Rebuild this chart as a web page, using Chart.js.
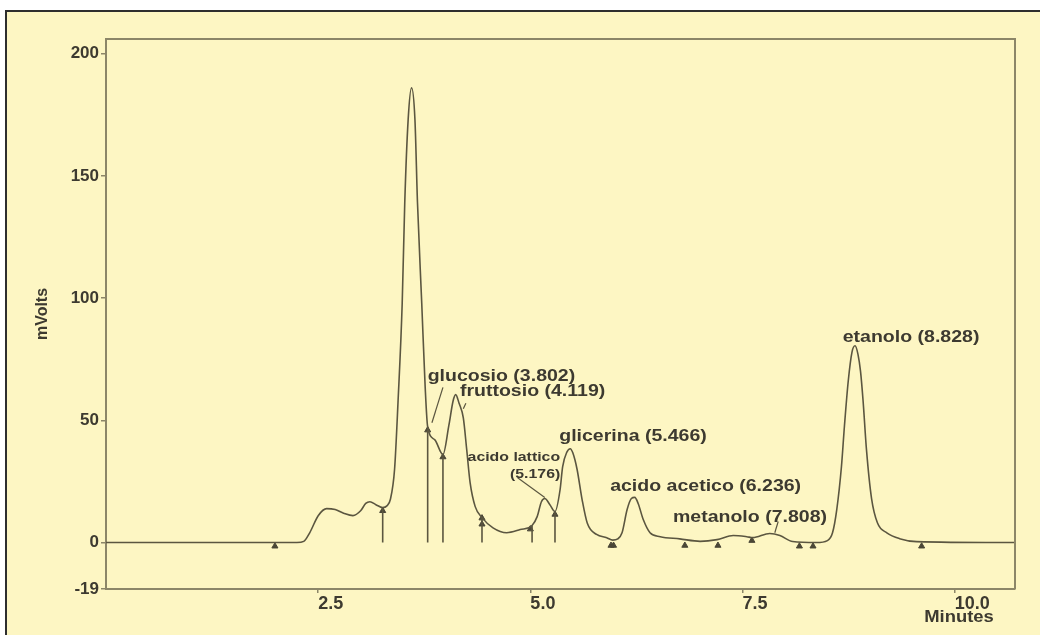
<!DOCTYPE html>
<html>
<head>
<meta charset="utf-8">
<script src="https://cdn.jsdelivr.net/npm/chart.js@4/dist/chart.umd.min.js"></script>
<style>
  html, body { margin: 0; padding: 0; background: #ffffff; }
  #frame {
    position: absolute; left: 5px; top: 10px; width: 1040px; height: 630px;
    background: #fdf6c3; border-left: 2px solid #2e2e2e; border-top: 2px solid #2e2e2e;
  }
  #chart { position: absolute; left: 0; top: 0; }
</style>
</head>
<body>
<div id="frame"></div>
<canvas id="chart" width="1040" height="635"></canvas>
<script>
// chromatogram trace (minutes / mVolts)
const times = [0, 2.25, 2.33, 2.40, 2.50, 2.60, 2.70, 2.80, 2.91, 3.00,
  3.06, 3.11, 3.18, 3.26, 3.31, 3.35, 3.40, 3.44, 3.49, 3.52,
  3.56, 3.60, 3.64, 3.67, 3.72, 3.76, 3.79, 3.875, 3.97, 4.04,
  4.09, 4.12, 4.16, 4.21, 4.25, 4.29, 4.35, 4.43, 4.56, 4.72,
  4.88, 5.02, 5.08, 5.13, 5.17, 5.23, 5.29, 5.35, 5.38, 5.43,
  5.47, 5.50, 5.55, 5.61, 5.67, 5.78, 5.90, 5.97, 6.03, 6.08,
  6.14, 6.19, 6.23, 6.27, 6.33, 6.41, 6.53, 6.76, 7.00, 7.20,
  7.39, 7.55, 7.62, 7.82, 7.94, 8.09, 8.37, 8.50, 8.56, 8.61,
  8.665, 8.70, 8.745, 8.79, 8.825, 8.86, 8.89, 8.92, 8.96, 9.02,
  9.09, 9.20, 9.35, 9.55, 10.71];
const mVolts = [0, 0, 0.5, 4, 11, 13.9, 13.5, 12, 11, 13,
  16, 16.7, 15.5, 14.3, 15, 17.6, 30, 57, 98, 139,
  173, 186, 173, 139, 98, 64, 47.3, 42, 36, 48,
  58, 60.5, 57, 51, 38, 24.5, 14.7, 10.2, 6, 4,
  5.3, 7, 10.6, 16.7, 18, 15.5, 12.7, 21.6, 31, 37,
  38.4, 36.7, 30, 17.5, 8, 3.3, 2, 1, 1.5, 4,
  13.5, 18, 18.5, 16, 9.4, 4, 2.4, 1.5, 0.5, 1.2,
  2.9, 2.4, 2, 3.7, 2.9, 0.4, 0, 0.8, 4, 13.5,
  31, 47.5, 66, 78, 80.5, 77, 70, 58, 38, 18,
  8, 4, 1.6, 0.4, 0];

// integration drop lines
const dropTimes = [3.26, 3.79, 3.97, 4.43, 5.02, 5.29];
const dropTops = [14.3, 47.3, 36, 10.2, 7, 12.7];

// peak start/end markers
const markerTimes = [1.99, 3.26, 3.79, 3.97, 4.43, 4.43, 5.00, 5.29, 5.95, 5.98, 6.82, 7.21, 7.61, 8.17, 8.33, 9.61];
const markerVals = [-1.5, 13, 46, 35, 10, 7.5, 5.5, 11.5, -1.2, -1.2, -1.2, -1.2, 0.8, -1.5, -1.5, -1.5];

// peak names
const peakLabels = ['glucosio (3.802)', 'fruttosio (4.119)', 'glicerina (5.466)', 'acido acetico (6.236)', 'metanolo (7.808)', 'etanolo (8.828)', 'acido lattico', '(5.176)'];
const labelT = [3.79, 4.17, 5.34, 5.94, 6.68, 8.68, 4.26, 4.76];
const labelV = [68, 61.6, 43.3, 22.9, 10.2, 84, 34.7, 27.8];
const labelSize = [16, 16, 16, 16, 16, 16, 13, 13];
// leader lines: t1, v1, t2, v2
const leaders = [[3.97, 63.5, 3.84, 49], [4.24, 57, 4.21, 54.7], [4.85, 26.5, 5.17, 18.4], [7.92, 8.6, 7.88, 4]];

const yTicks = [-19, 0, 50, 100, 150, 200];
const xTicks = [2.5, 5.0, 7.5, 10.0];

const inkColor = '#5b5640';
const axisColor = '#8c8668';
const textColor = '#3d3a30';
const fontFamily = '"Liberation Sans", Arial, sans-serif';

const trace = times.map((t, i) => ({ x: t, y: mVolts[i] }));
const drops = [];
dropTimes.forEach((t, i) => {
    drops.push({ x: t, y: 0 }, { x: t, y: dropTops[i] }, { x: t, y: null });
});
const markers = markerTimes.map((t, i) => ({ x: t, y: markerVals[i] }));

// frame of the plot area, peak names and the "Minutes" caption
const decorPlugin = {
    id: 'decor',
    afterDraw(chart) {
        const { ctx, chartArea, scales } = chart;
        const xs = scales.x, ys = scales.y;
        ctx.save();
        ctx.strokeStyle = axisColor;
        ctx.lineWidth = 2;
        ctx.beginPath();
        ctx.moveTo(chartArea.left, chartArea.top);
        ctx.lineTo(chartArea.right, chartArea.top);
        ctx.lineTo(chartArea.right, chartArea.bottom);
        ctx.stroke();

        ctx.strokeStyle = inkColor;
        ctx.lineWidth = 1.2;
        leaders.forEach(l => {
            ctx.beginPath();
            ctx.moveTo(xs.getPixelForValue(l[0]), ys.getPixelForValue(l[1]));
            ctx.lineTo(xs.getPixelForValue(l[2]), ys.getPixelForValue(l[3]));
            ctx.stroke();
        });

        ctx.fillStyle = textColor;
        ctx.textBaseline = 'middle';
        ctx.textAlign = 'left';
        peakLabels.forEach((txt, i) => {
            ctx.save();
            ctx.translate(xs.getPixelForValue(labelT[i]), ys.getPixelForValue(labelV[i]));
            ctx.scale(1.22, 1);
            ctx.font = `bold ${labelSize[i]}px ${fontFamily}`;
            ctx.fillText(txt, 0, 0);
            ctx.restore();
        });

        ctx.save();
        ctx.translate(xs.getPixelForValue(10) + 39, chartArea.bottom + 29);
        ctx.scale(1.15, 1);
        ctx.textAlign = 'right';
        ctx.font = `bold 16px ${fontFamily}`;
        ctx.fillText('Minutes', 0, 0);
        ctx.restore();
        ctx.restore();
    }
};

new Chart(document.getElementById('chart'), {
    type: 'line',
    data: {
        datasets: [
            {
                data: trace,
                borderColor: inkColor,
                borderWidth: 1.6,
                pointRadius: 0,
                cubicInterpolationMode: 'monotone',
                fill: false
            },
            {
                data: drops,
                borderColor: inkColor,
                borderWidth: 1.6,
                pointRadius: 0,
                tension: 0,
                spanGaps: false
            },
            {
                data: markers,
                showLine: false,
                pointStyle: 'triangle',
                pointRadius: 3.5,
                backgroundColor: '#4a4636',
                borderColor: '#4a4636',
                borderWidth: 1
            }
        ]
    },
    options: {
        responsive: false,
        animation: false,
        layout: { padding: { top: 39, right: 25, left: 0, bottom: 0 } },
        plugins: {
            legend: { display: false },
            tooltip: { enabled: false }
        },
        scales: {
            x: {
                type: 'linear',
                min: 0,
                max: 10.71,
                afterBuildTicks: (scale) => { scale.ticks = xTicks.map(v => ({ value: v })); },
                afterFit: (scale) => { scale.height = 46; },
                ticks: {
                    align: 'start',
                    padding: 0,
                    color: textColor,
                    font: { family: fontFamily, size: 18, weight: 'bold' },
                    callback: (v) => Number(v).toFixed(1)
                },
                grid: { drawOnChartArea: false, tickLength: 4, color: axisColor, lineWidth: 1.5 },
                border: { display: true, color: axisColor, width: 2 }
            },
            y: {
                min: -19,
                max: 206,
                afterBuildTicks: (scale) => { scale.ticks = yTicks.map(v => ({ value: v })); },
                afterFit: (scale) => { scale.width = 106; },
                ticks: {
                    padding: 2,
                    color: textColor,
                    font: { family: fontFamily, size: 17, weight: 'bold' }
                },
                grid: { drawOnChartArea: false, tickLength: 5, color: axisColor, lineWidth: 1.5 },
                border: { display: true, color: axisColor, width: 2 },
                title: {
                    display: true,
                    text: 'mVolts',
                    color: textColor,
                    padding: { top: 33, bottom: 0 },
                    font: { family: fontFamily, size: 16, weight: 'bold' }
                }
            }
        }
    },
    plugins: [decorPlugin]
});
</script>
</body>
</html>
